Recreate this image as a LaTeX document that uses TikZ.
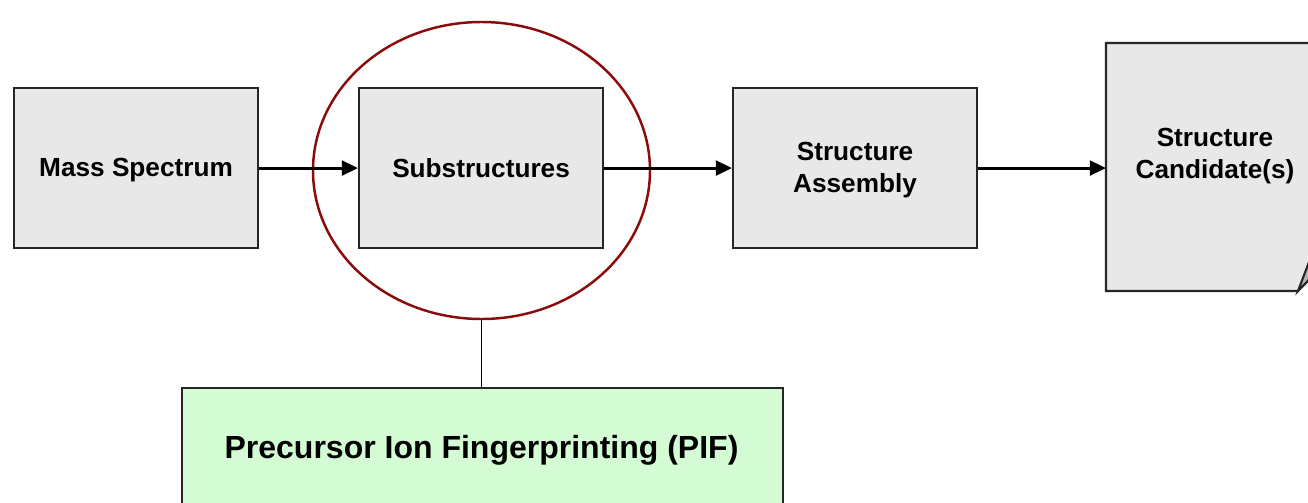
\documentclass[tikz,border=0pt]{standalone}
\usepackage{fontspec}
\setmainfont{Liberation Sans}
\usetikzlibrary{arrows.meta,shapes.geometric}
\definecolor{boxgray}{HTML}{E8E8E8}
\definecolor{pifgreen}{HTML}{D4FCD4}
\definecolor{ringred}{HTML}{8B0A0A}
\definecolor{foldgray}{HTML}{B4B4B4}
\tikzset{
  procbox/.style={draw=black!85, line width=0.6pt, fill=boxgray},
  lbl/.style={font=\fontsize{7.45pt}{9pt}\selectfont\bfseries, align=center, inner sep=0pt},
  flow/.style={line width=0.85pt, -{Triangle[length=4.6pt,width=4.2pt]}},
}
\begin{document}
\begin{tikzpicture}[x=0.01cm,y=-0.01cm]
\useasboundingbox (0,0) rectangle (1308,503);
\clip (0,0) rectangle (1308,503);
\fill[white] (0,0) rectangle (1308,503);
% boxes
\node[procbox, minimum width=244*0.01cm, minimum height=160*0.01cm, inner sep=0pt, anchor=north west] (ms) at (13,87) {};
\node[lbl] at ([yshift=-0.02cm]ms.center) {Mass Spectrum};
\node[procbox, minimum width=244*0.01cm, minimum height=160*0.01cm, inner sep=0pt, anchor=north west] (sub) at (358,87) {};
\node[lbl] at (sub.center) {Substructures};
\node[procbox, minimum width=244*0.01cm, minimum height=160*0.01cm, inner sep=0pt, anchor=north west] (asm) at (732,87) {};
\node[lbl] at ([yshift=-0.02cm]asm.center) {Structure\\Assembly};
% document shape
\coordinate (cand) at (1106,167);
\filldraw[procbox] (1106,43) -- (1332,43) -- (1332,256) -- (1298,291) -- (1106,291) -- cycle;
\filldraw[fill=foldgray, draw=black!85, line width=0.6pt] (1298,291) -- (1309,262) -- (1332,256) -- cycle;
\node[lbl] at (1215,156) {Structure\\Candidate(s)};
% ellipse
\node[draw=ringred, line width=0.7pt, ellipse, minimum width=337*0.01cm, minimum height=297*0.01cm, inner sep=0pt] (ring) at (481.5,170.5) {};
% PIF box
\node[draw=black!85, line width=0.6pt, fill=pifgreen, minimum width=601*0.01cm, minimum height=128*0.01cm, inner sep=0pt, anchor=north west] (pif) at (181,387) {};
\node[font=\fontsize{9.1pt}{11pt}\selectfont\bfseries, inner sep=0pt] at (481.5,450) {Precursor Ion Fingerprinting (PIF)};
% connectors
\draw[flow] (ms.east) -- (sub.west);
\draw[flow] (sub.east) -- (asm.west);
\draw[flow] (asm.east) -- (asm.east -| cand);
\draw[line width=0.5pt] (ring.south) -- (pif.north -| ring.south);
\end{tikzpicture}
\end{document}
